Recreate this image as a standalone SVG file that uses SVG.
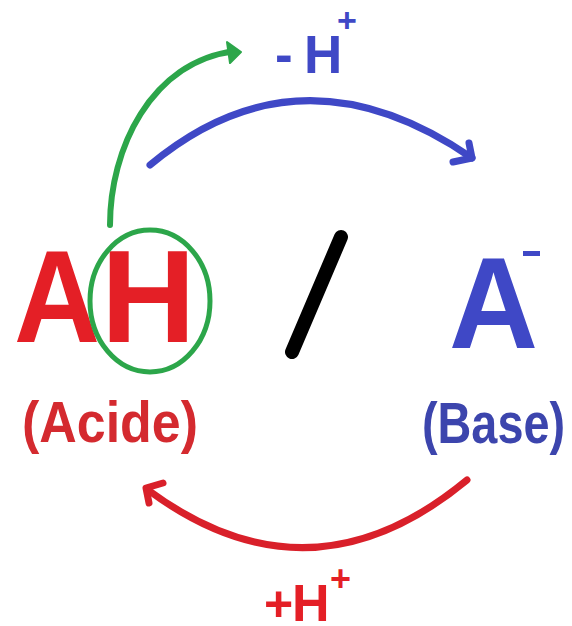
<svg xmlns="http://www.w3.org/2000/svg" width="572" height="626" viewBox="0 0 572 626">
<style>
.t{font-family:"Liberation Sans",Arial,sans-serif;font-weight:bold}
.red{fill:#e41f26}
.blue{fill:#3f48c6}
.arc{fill:none;stroke-linecap:round;stroke-linejoin:round}
</style>
<rect width="572" height="626" fill="#ffffff"/>
<g id="acid">
<text class="t red" x="14" y="342" font-size="131" textLength="86" lengthAdjust="spacingAndGlyphs">A</text>
<text class="t red" x="101" y="342" font-size="131">H</text>
<ellipse cx="150" cy="301" rx="60" ry="71" fill="none" stroke="#2ca64a" stroke-width="5"/>
<text class="t" x="22" y="442" font-size="58" fill="#d42a2f" textLength="176" lengthAdjust="spacingAndGlyphs">(Acide)</text>
</g>
<g id="slash">
<line x1="341" y1="237" x2="292" y2="352" stroke="#000" stroke-width="14" stroke-linecap="round"/>
</g>
<g id="base">
<text class="t blue" x="449" y="348" font-size="130" textLength="89" lengthAdjust="spacingAndGlyphs">A</text>
<rect x="523" y="251" width="17" height="5" fill="#3f48c6"/>
<text class="t" x="422" y="443" font-size="58" fill="#3c45ad" textLength="143" lengthAdjust="spacingAndGlyphs">(Base)</text>
</g>
<g id="connectors">
<path class="arc" d="M110,225 C110,150 150,62 235,51" stroke="#2ca64a" stroke-width="6"/>
<polygon points="241,52 227,42 230,63" fill="#2ca64a" stroke="#2ca64a" stroke-width="2" stroke-linejoin="round"/>
<path class="arc" d="M150,165 Q300,40 472,158" stroke="#3f48c6" stroke-width="7"/>
<polyline class="arc" points="469,143 472,158 453,162" stroke="#3f48c6" stroke-width="7"/>
<path class="arc" d="M467,480 Q310,610 148,490" stroke="#d9202a" stroke-width="7"/>
<polyline class="arc" points="163,483 146,488 149,503" stroke="#d9202a" stroke-width="7"/>
</g>
<g id="label-minus">
<text class="t blue" x="275" y="73" font-size="53">-</text>
<text class="t blue" x="304" y="73" font-size="53">H</text>
<text class="t blue" x="337" y="32" font-size="34">+</text>
</g>
<g id="label-plus">
<text class="t" x="264" y="621" font-size="50" fill="#e41f26">+</text>
<text class="t" x="292" y="621" font-size="52" fill="#e41f26">H</text>
<text class="t" x="330" y="591" font-size="36" fill="#e41f26">+</text>
</g>
</svg>
